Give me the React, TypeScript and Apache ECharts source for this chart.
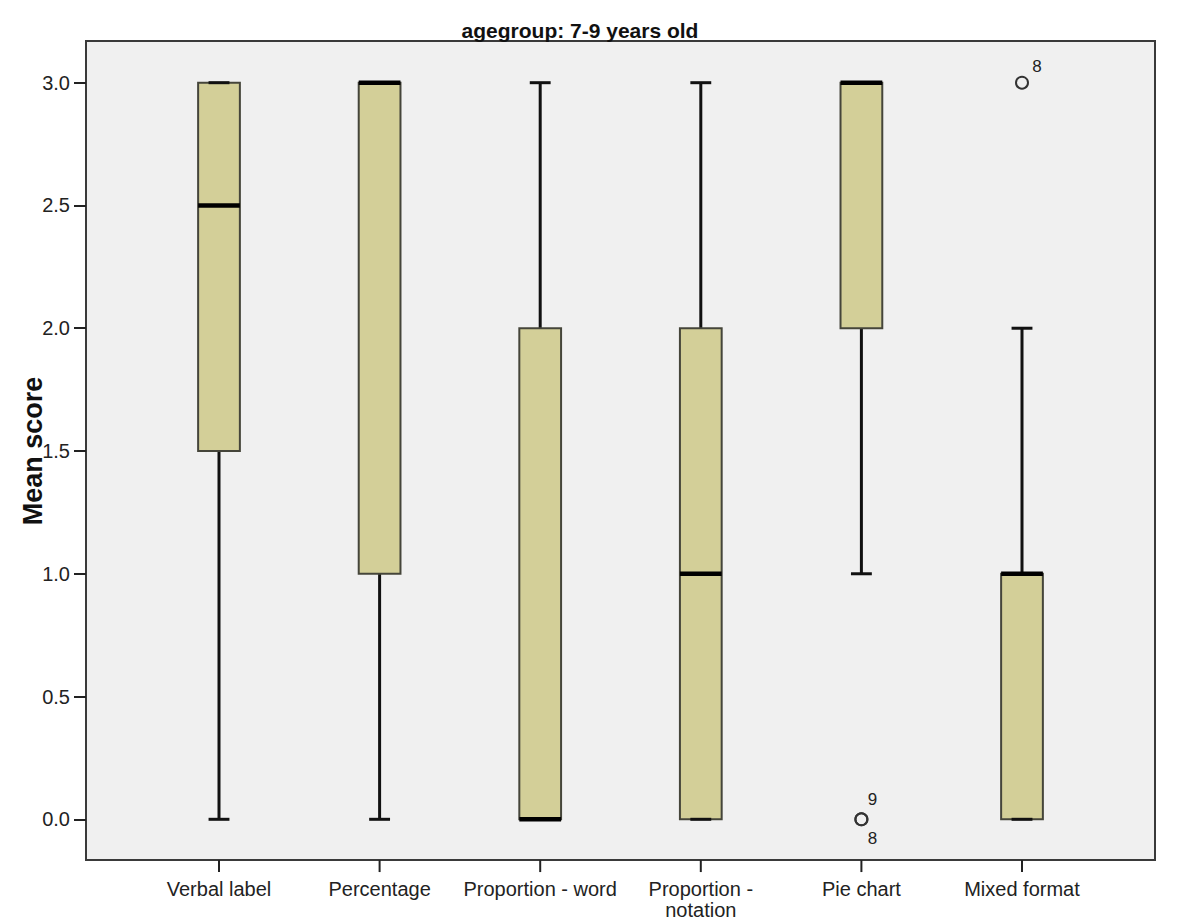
import React, { useEffect, useRef } from "react";
import * as echarts from "echarts";

const categories = [
  "Verbal label",
  "Percentage",
  "Proportion - word",
  "Proportion -\nnotation",
  "Pie chart",
  "Mixed format",
];
const whiskerLow = [0, 0, 0, 0, 1, 0];
const quartile1 = [1.5, 1, 0, 0, 2, 0];
const medians = [2.5, 3, 0, 1, 3, 1];
const quartile3 = [3, 3, 2, 2, 3, 1];
const whiskerHigh = [3, 3, 3, 3, 3, 2];

const outlierCategory = [4, 4, 5];
const outlierValue = [0, 0, 3];
const outlierCase = ["9", "8", "8"];

const FONT = "'Liberation Sans', Arial, sans-serif";

export default function App() {
  const ref = useRef<HTMLDivElement>(null);

  useEffect(() => {
    if (!ref.current) return;
    const chart = echarts.init(ref.current, null, { renderer: "svg" });

    const boxData = categories.map((_, i) => [
      i,
      whiskerLow[i],
      quartile1[i],
      medians[i],
      quartile3[i],
      whiskerHigh[i],
    ]);

    const outlierData = outlierCategory.map((c, i) => {
      let dup = 0;
      let count = 0;
      for (let j = 0; j < outlierCategory.length; j++) {
        if (outlierCategory[j] === c && outlierValue[j] === outlierValue[i]) {
          if (j < i) dup++;
          count++;
        }
      }
      return [c, outlierValue[i], outlierCase[i], dup, count];
    });

    const tickData = categories.map((_, i) => [i, 0]);

    const option: any = {
      animation: false,
      backgroundColor: "#ffffff",
      textStyle: { fontFamily: FONT },
      grid: { left: 138.7, right: 97.7, top: 82.7, bottom: 101.7 },
      graphic: [
        {
          type: "rect",
          z: -10,
          silent: true,
          shape: { x: 86, y: 41, width: 1069, height: 819 },
          style: { fill: "#f0f0f0", stroke: "#3a3a3a", lineWidth: 2 },
        },
        {
          type: "text",
          x: 580,
          y: 30,
          style: {
            text: "agegroup: 7-9 years old",
            font: `bold 21px ${FONT}`,
            fill: "#111",
            align: "center",
            verticalAlign: "middle",
          },
        },
      ],
      xAxis: {
        type: "category",
        data: categories,
        axisLine: { show: false },
        axisTick: { show: false },
        axisLabel: {
          fontSize: 20,
          color: "#222",
          margin: 59,
          lineHeight: 21,
          interval: 0,
          fontFamily: FONT,
        },
        splitLine: { show: false },
      },
      yAxis: {
        type: "value",
        min: 0,
        max: 3,
        interval: 0.5,
        offset: 52.7,
        name: "Mean score",
        nameLocation: "middle",
        nameRotate: 90,
        nameGap: 40,
        nameMoveOverlap: false,
        nameTextStyle: {
          fontSize: 27,
          fontWeight: "bold",
          color: "#111",
          fontFamily: FONT,
        },
        axisLine: { show: false },
        axisTick: { show: true, length: 12, lineStyle: { color: "#222", width: 2 } },
        axisLabel: {
          fontSize: 20,
          color: "#222",
          margin: 16,
          fontFamily: FONT,
          formatter: (v: number) => v.toFixed(1),
        },
        splitLine: { show: false },
      },
      series: [
        {
          type: "custom",
          name: "Boxes",
          data: boxData,
          encode: { x: 0, y: [1, 2, 3, 4, 5] },
          z: 3,
          renderItem: (params: any, api: any) => {
            const i = api.value(0);
            const lo = api.coord([i, api.value(1)]);
            const b1 = api.coord([i, api.value(2)]);
            const md = api.coord([i, api.value(3)]);
            const b3 = api.coord([i, api.value(4)]);
            const hi = api.coord([i, api.value(5)]);
            const band = api.size([1, 0])[0];
            const bw = band * 0.26;
            const cw = band * 0.13;
            const x = lo[0];
            const wStyle = { stroke: "#111", lineWidth: 3 };
            return {
              type: "group",
              children: [
                {
                  type: "line",
                  shape: { x1: x, y1: b3[1], x2: x, y2: hi[1] },
                  style: wStyle,
                },
                {
                  type: "line",
                  shape: { x1: x, y1: b1[1], x2: x, y2: lo[1] },
                  style: wStyle,
                },
                {
                  type: "rect",
                  shape: { x: x - bw / 2, y: b3[1], width: bw, height: b1[1] - b3[1] },
                  style: { fill: "#d3cf98", stroke: "#45453a", lineWidth: 2 },
                },
                {
                  type: "line",
                  shape: { x1: x - cw / 2, y1: hi[1], x2: x + cw / 2, y2: hi[1] },
                  style: wStyle,
                },
                {
                  type: "line",
                  shape: { x1: x - cw / 2, y1: lo[1], x2: x + cw / 2, y2: lo[1] },
                  style: wStyle,
                },
                {
                  type: "line",
                  shape: { x1: x - bw / 2, y1: md[1], x2: x + bw / 2, y2: md[1] },
                  style: { stroke: "#000", lineWidth: 4.5 },
                },
              ],
            };
          },
        },
        {
          type: "custom",
          name: "Outliers",
          data: outlierData,
          encode: { x: 0, y: 1 },
          z: 4,
          renderItem: (params: any, api: any) => {
            const p = api.coord([api.value(0), api.value(1)]);
            const id = String(outlierData[params.dataIndex][2]);
            const dup = api.value(3);
            const count = api.value(4);
            let dx = 15;
            let dy = -16;
            if (count > 1) {
              dx = 11;
              dy = dup === 0 ? -20 : 19;
            }
            return {
              type: "group",
              children: [
                {
                  type: "circle",
                  shape: { cx: p[0], cy: p[1], r: 6 },
                  style: { fill: "none", stroke: "#333", lineWidth: 2 },
                },
                {
                  type: "text",
                  x: p[0] + dx,
                  y: p[1] + dy,
                  style: {
                    text: id,
                    font: `17px ${FONT}`,
                    fill: "#222",
                    align: "center",
                    verticalAlign: "middle",
                  },
                },
              ],
            };
          },
        },
        {
          type: "custom",
          name: "Category ticks",
          data: tickData,
          encode: { x: 0, y: 1 },
          silent: true,
          z: 2,
          renderItem: (params: any, api: any) => {
            const p = api.coord([api.value(0), api.value(1)]);
            const bottom = api.coord([api.value(0), -0.166])[1];
            return {
              type: "line",
              shape: { x1: p[0], y1: bottom, x2: p[0], y2: bottom + 12 },
              style: { stroke: "#222", lineWidth: 2 },
            };
          },
        },
      ],
    };

    chart.setOption(option);
    return () => chart.dispose();
  }, []);

  return (
    <div
      ref={ref}
      style={{ position: "absolute", left: 0, top: 0, width: 1200, height: 921 }}
    />
  );
}
